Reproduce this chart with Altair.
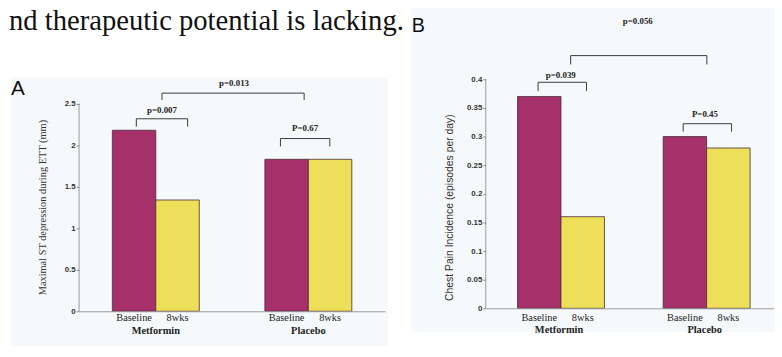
import altair as alt
import pandas as pd

# ---------------- data ----------------
groups = ["Metformin", "Placebo"]
timepoints = ["Baseline", "8wks"]
st_depression = [2.18, 1.34, 1.83, 1.83]      # Metformin-Baseline, Metformin-8wks, Placebo-Baseline, Placebo-8wks
chest_pain = [0.37, 0.16, 0.30, 0.28]
st_ticks = [0, 0.5, 1, 1.5, 2, 2.5]
cp_ticks = [0, 0.05, 0.1, 0.15, 0.2, 0.25, 0.3, 0.35, 0.4]
st_title = "Maximal ST depression during ETT (mm)"
cp_title = "Chest Pain Incidence (episodes per day)"
st_pvalues = ["p=0.007", "P=0.67", "p=0.013"]
cp_pvalues = ["p=0.039", "P=0.45", "p=0.056"]
caption = "nd therapeutic potential is lacking."
panel_letters = ["A", "B"]

SERIF = "Liberation Serif"
SANS = "Liberation Sans"
BAR_COLORS = ["#A5306A", "#EEDF5A"]
BG = "#F6F9FB"


def make_df(values):
    rows = []
    i = 0
    for g in groups:
        for t in timepoints:
            rows.append({"group": g, "time": t, "value": values[i]})
            i += 1
    return pd.DataFrame(rows)


def txt(text, x, y, size, font, weight="normal", align="center", baseline="middle", angle=0, color="#222222"):
    return alt.Chart(pd.DataFrame({"label": [text]})).mark_text(
        font=font, fontSize=size, fontWeight=weight, align=align,
        baseline=baseline, angle=angle, color=color
    ).encode(x=alt.value(x), y=alt.value(y), text="label:N")


def bracket(x1, x2, top, leg):
    one = pd.DataFrame({"k": [0]})
    base = alt.Chart(one).mark_rule(color="#3a3a3a", strokeWidth=1)
    return [
        base.encode(x=alt.value(x1), x2=alt.value(x2), y=alt.value(top)),
        base.encode(x=alt.value(x1), y=alt.value(top), y2=alt.value(leg)),
        base.encode(x=alt.value(x2), y=alt.value(top), y2=alt.value(leg)),
    ]


def rect(x1, x2, y1, y2):
    return alt.Chart(pd.DataFrame({"k": [0]})).mark_rect(color=BG).encode(
        x=alt.value(x1), x2=alt.value(x2), y=alt.value(y1), y2=alt.value(y2))


def panel(values, ticks, ymax, width, height, bg, extra, label_y, group_y):
    df = make_df(values)
    x = alt.X("group:N", sort=groups,
              scale=alt.Scale(paddingInner=0.43, paddingOuter=0.218),
              axis=alt.Axis(labels=False, ticks=False, title=None, zindex=1,
                            domainColor="#9a9a9a", domainWidth=1))
    xo = alt.XOffset("time:N", sort=timepoints, scale=alt.Scale(paddingInner=0, paddingOuter=0))
    y = alt.Y("value:Q", scale=alt.Scale(domain=[0, ymax], nice=False, zero=True),
              axis=alt.Axis(values=ticks, tickCount=len(ticks) + 2, title=None, grid=False,
                            domain=False, zindex=1,
                            tickSize=3, tickColor="#8a8a8a", labelFont=SANS,
                            labelFontWeight="bold", labelFontSize=8, labelOverlap=False,
                            labelFlush=False, labelColor="#333333", labelPadding=1,
                            format="~g"))
    bars = alt.Chart(df).mark_bar(stroke="#4b2a38", strokeWidth=0.8).encode(
        x=x, xOffset=xo, y=y,
        color=alt.Color("time:N", scale=alt.Scale(domain=timepoints, range=BAR_COLORS), legend=None))
    axis_line = alt.Chart(pd.DataFrame({"k": [0]})).mark_rule(color="#9a9a9a", strokeWidth=1).encode(
        x=alt.value(0), y=alt.datum(ticks[0]), y2=alt.datum(ticks[-1]))
    cat = alt.Chart(df).mark_text(font=SERIF, fontSize=10.5, color="#222222", baseline="middle").encode(
        x=x, xOffset=xo, y=alt.value(label_y), text="time:N")
    grp = alt.Chart(pd.DataFrame({"group": groups})).mark_text(
        font=SERIF, fontSize=10.5, fontWeight="bold", color="#222222", baseline="middle").encode(
        x=x, y=alt.value(group_y), text="group:N")
    layers = [rect(*bg), bars, axis_line, cat, grp] + extra
    return alt.layer(*layers).properties(width=width, height=height)


# ---------------- panel A ----------------
extraA = (
    [txt(caption, -71, -50, 29, SERIF, align="left", baseline="alphabetic", color="#111111"),
     txt(panel_letters[0], -69, 16, 21, SANS, align="left", baseline="alphabetic", color="#111111"),
     txt(st_title, -36, 130, 10.5, SERIF, angle=270, color="#333333")]
    + bracket(58, 110, 40, 48)
    + [txt(st_pvalues[0], 84, 31, 9, SERIF, weight="bold")]
    + bracket(204, 254, 60, 68)
    + [txt(st_pvalues[1], 229, 49, 9, SERIF, weight="bold")]
    + bracket(84, 228, 14, 21)
    + [txt(st_pvalues[2], 157, 4, 9, SERIF, weight="bold")]
)
panelA = panel(st_depression, st_ticks, 2.7936, 310, 235, (-69, 313, -2, 270), extraA, 242, 254.7)

# ---------------- panel B ----------------
extraB = (
    [txt(panel_letters[1], -75, -48, 20, SANS, align="left", baseline="alphabetic", color="#111111"),
     txt(cp_title, -36, 130, 10.5, SANS, angle=270, color="#333333")]
    + bracket(53, 102, 3, 12)
    + [txt(cp_pvalues[0], 76, -4, 9, SERIF, weight="bold")]
    + bracket(200, 249, 45, 53)
    + [txt(cp_pvalues[1], 222, 35, 9, SERIF, weight="bold")]
    + bracket(86, 224, -24, -15)
    + [txt(cp_pvalues[2], 154, -59, 9, SERIF, weight="bold")]
)
panelB = panel(chest_pain, cp_ticks, 0.4, 296, 232, (-76, 299, -77, 256), extraB, 242, 254)

chart = alt.hconcat(panelA, panelB, spacing=102, bounds="flush").properties(
    padding={"left": 0, "top": -8, "right": -8, "bottom": 0}
).configure_view(strokeWidth=0).configure(background="white")

chart.save("out.html", embed_options={"renderer": "svg", "actions": False})
